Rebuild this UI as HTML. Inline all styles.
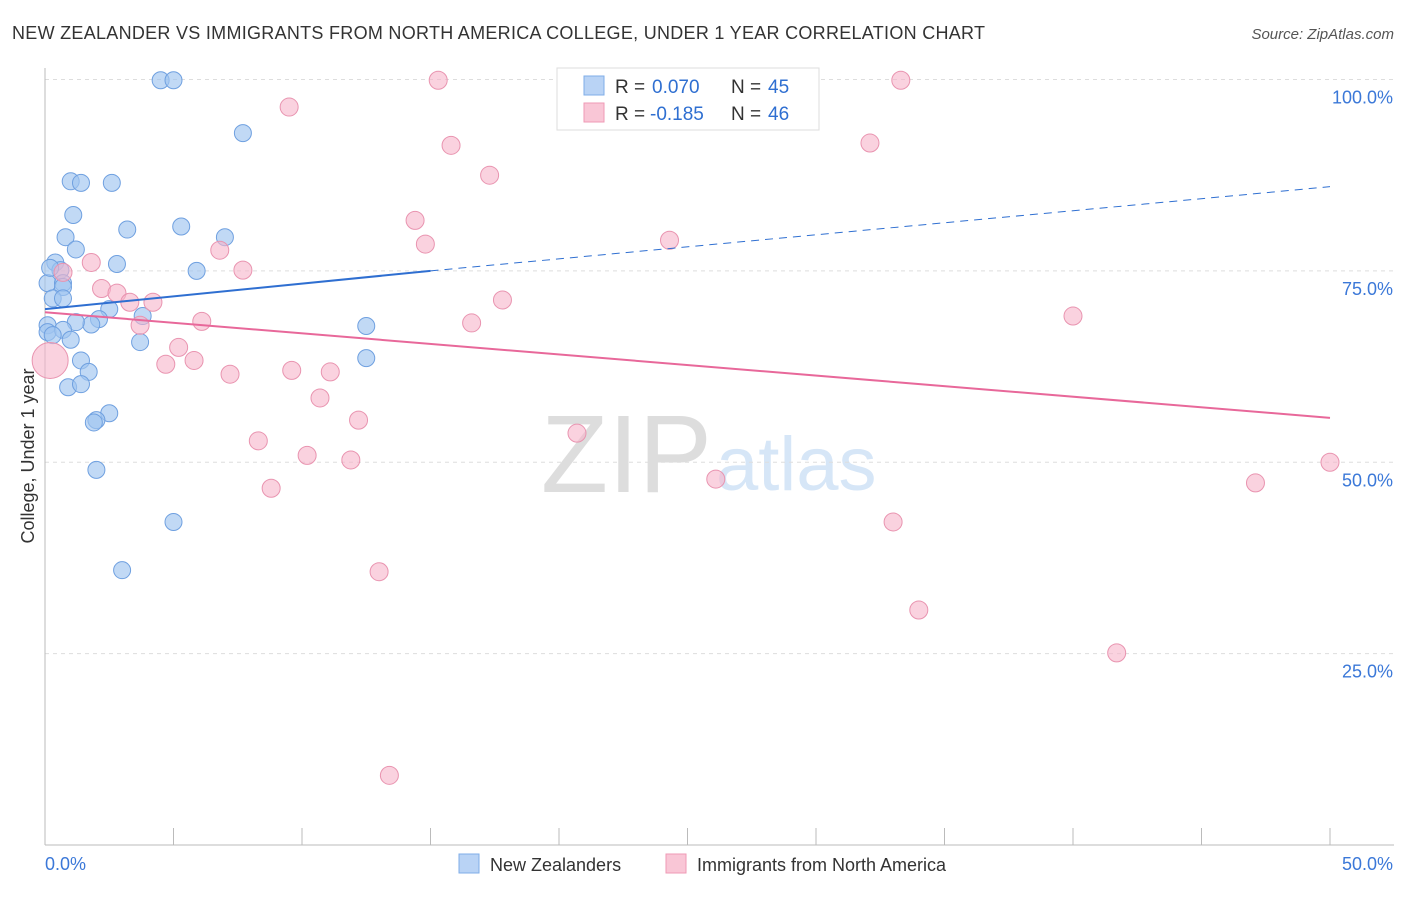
<!DOCTYPE html>
<html><head><meta charset="utf-8">
<style>
body{margin:0;background:#fff;font-family:"Liberation Sans",sans-serif;}
svg text{font-family:"Liberation Sans",sans-serif;}
</style></head>
<body>
<svg id="chart" width="1406" height="892" xmlns="http://www.w3.org/2000/svg">
<text x="12" y="39" font-size="18" fill="#333" textLength="973">NEW ZEALANDER VS IMMIGRANTS FROM NORTH AMERICA COLLEGE, UNDER 1 YEAR CORRELATION CHART</text>
<text x="1394" y="39" font-size="15" fill="#555" font-style="italic" text-anchor="end">Source: ZipAtlas.com</text>
<text x="712" y="492" font-size="110" fill="#ddd" text-anchor="end" font-family="Liberation Serif">ZIP</text>
<text x="716" y="490" font-size="76" fill="#d6e6f7">atlas</text>
<text transform="translate(34,456) rotate(-90)" font-size="18" fill="#333" text-anchor="middle">College, Under 1 year</text>
<g id="grid"></g><g id="axes"></g><g id="marks"></g>
<g>
<rect x="557" y="68" width="262" height="62" fill="#fff" stroke="#ddd"/>
<rect x="584" y="76" width="20" height="19" fill="#b9d3f5" stroke="#7faee8"/>
<rect x="584" y="103" width="20" height="19" fill="#f9c6d6" stroke="#ef9ab5"/>
<text x="615" y="93" font-size="19" fill="#333">R =</text><text x="652" y="93" font-size="19" fill="#2f6fd1">0.070</text>
<text x="731" y="93" font-size="19" fill="#333">N =</text><text x="768" y="93" font-size="19" fill="#2f6fd1">45</text>
<text x="615" y="120" font-size="19" fill="#333">R =</text><text x="650" y="120" font-size="19" fill="#2f6fd1">-0.185</text>
<text x="731" y="120" font-size="19" fill="#333">N =</text><text x="768" y="120" font-size="19" fill="#2f6fd1">46</text>
</g>
<g>
<rect x="459" y="854" width="20" height="19" fill="#b9d3f5" stroke="#7faee8"/>
<text x="490" y="871" font-size="18" fill="#333">New Zealanders</text>
<rect x="666" y="854" width="20" height="19" fill="#f9c6d6" stroke="#ef9ab5"/>
<text x="697" y="871" font-size="18" fill="#333">Immigrants from North America</text>
</g>
</svg>
<script>
const yTicks=[25,50,75,100];
const yTickLabels=["25.0%","50.0%","75.0%","100.0%"];
const xTickLabels=["0.0%","50.0%"];
const blueX=[4.5,5.0,7.7,1.0,1.4,2.6,1.1,5.3,3.2,0.8,7.0,1.2,0.4,2.8,5.9,0.6,0.1,0.7,0.7,0.3,0.7,2.5,3.8,2.1,1.8,1.2,0.1,12.5,0.1,0.7,1.0,3.7,1.4,12.5,1.7,0.9,1.4,2.5,2.0,1.9,2.0,5.0,3.0,0.2,0.3];
const blueY=[99.9,99.9,93.0,86.7,86.5,86.5,82.3,80.8,80.4,79.4,79.4,77.8,76.1,75.9,75.0,75.1,73.4,73.4,72.9,71.4,71.4,70.0,69.1,68.7,68.0,68.3,67.9,67.8,67.0,67.3,66.0,65.7,63.3,63.6,61.8,59.8,60.2,56.4,55.5,55.2,49.0,42.2,35.9,75.4,66.6];
const pinkX=[15.3,33.3,9.5,15.8,32.1,17.3,14.4,14.8,24.3,6.8,1.8,0.7,7.7,2.2,2.8,3.3,4.2,17.8,6.1,3.7,16.6,40.0,5.2,5.8,4.7,7.2,9.6,11.1,10.7,12.2,20.7,8.3,10.2,11.9,8.8,26.1,50.0,47.1,33.0,13.0,34.0,41.7,13.4,0.2];
const pinkY=[99.9,99.9,96.4,91.4,91.7,87.5,81.6,78.5,79.0,77.7,76.1,74.8,75.1,72.7,72.1,70.9,70.9,71.2,68.4,67.9,68.2,69.1,65.0,63.3,62.8,61.5,62.0,61.8,58.4,55.5,53.8,52.8,50.9,50.3,46.6,47.8,50.0,47.3,42.2,35.7,30.7,25.1,9.1,63.3];
const pinkR=[9,9,9,9,9,9,9,9,9,9,9,9,9,9,9,9,9,9,9,9,9,9,9,9,9,9,9,9,9,9,9,9,9,9,9,9,9,9,9,9,9,9,9,18];
const blueTrend=[70.0,75.0,86.0]; const blueTrendX=[0,15,50];
const pinkTrend=[69.6,55.8]; const pinkTrendX=[0,50];

const X0=45,X1=1330,Y0=845,Y100=79.5;
const sx=v=>X0+(v/50)*(X1-X0);
const sy=v=>Y0-(v/100)*(Y0-Y100);
const NS="http://www.w3.org/2000/svg";
function mk(tag,parent,attrs){const e=document.createElementNS(NS,tag);for(const k in attrs)e.setAttribute(k,attrs[k]);document.getElementById(parent).appendChild(e);return e;}
yTicks.forEach((t,i)=>{
  const l=mk('line','grid',{x1:X0,x2:1394,y1:sy(t),y2:sy(t),stroke:'#ddd','stroke-dasharray':'4,4'});
  
  
  const tx=mk('text','axes',{x:1393,y:sy(t)+24,'font-size':18,fill:'#3b78d8','text-anchor':'end'});
  tx.textContent=yTickLabels[i];
  
  
});
let ax=mk('line','axes',{x1:X0,x2:X0,y1:68,y2:845,stroke:'#bbb'});


ax=mk('line','axes',{x1:X0,x2:1394,y1:845,y2:845,stroke:'#bbb'});


for(let i=0;i<=10;i++){const t=mk('line','axes',{x1:sx(i*5),x2:sx(i*5),y1:828,y2:845,stroke:'#bbb'});

}
[[0,'start',45],[50,'end',1393]].forEach((d,i)=>{const t=mk('text','axes',{x:d[2],y:870,'font-size':18,fill:'#3b78d8','text-anchor':d[1]});t.textContent=xTickLabels[i];

});
blueX.forEach((v,i)=>{const c=mk('circle','marks',{cx:sx(v),cy:sy(blueY[i]),r:8.5,fill:'rgba(160,196,240,0.65)',stroke:'#6fa0e0','stroke-width':1});

});
pinkX.forEach((v,i)=>{const c=mk('circle','marks',{cx:sx(v),cy:sy(pinkY[i]),r:pinkR[i],fill:'rgba(246,180,202,0.6)',stroke:'#e994b0','stroke-width':1});

});
let tl=mk('line','marks',{x1:sx(blueTrendX[0]),y1:sy(blueTrend[0]),x2:sx(blueTrendX[1]),y2:sy(blueTrend[1]),stroke:'#2f6fd1','stroke-width':2});


tl=mk('line','marks',{x1:sx(blueTrendX[1]),y1:sy(blueTrend[1]),x2:sx(blueTrendX[2]),y2:sy(blueTrend[2]),stroke:'#2f6fd1','stroke-width':1,'stroke-dasharray':'8,6'});


tl=mk('line','marks',{x1:sx(pinkTrendX[0]),y1:sy(pinkTrend[0]),x2:sx(pinkTrendX[1]),y2:sy(pinkTrend[1]),stroke:'#e8689a','stroke-width':2});


</script>
</body></html>
